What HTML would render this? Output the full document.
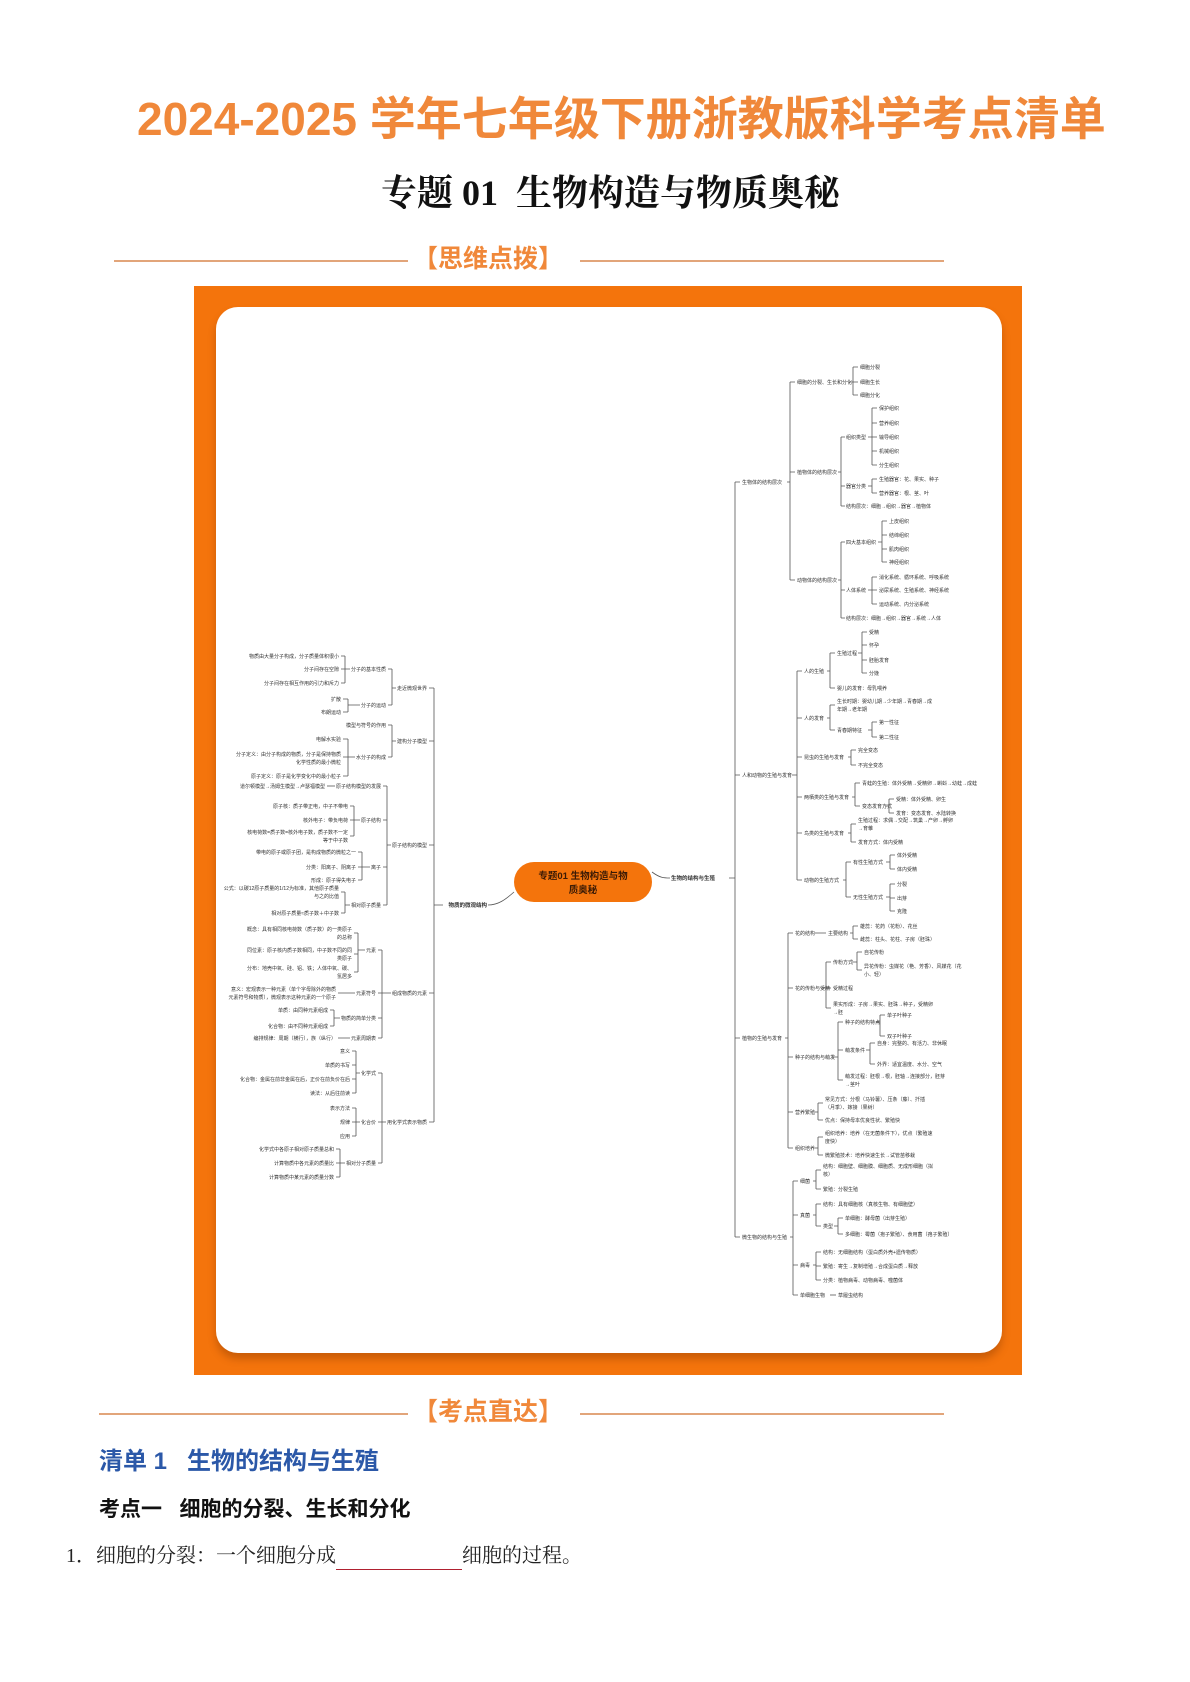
<!DOCTYPE html>
<html><head><meta charset="utf-8">
<style>
html,body{margin:0;padding:0;background:#fff;}
body{width:1190px;height:1682px;position:relative;overflow:hidden;font-family:"Liberation Sans","Noto Sans CJK SC",sans-serif;}
.abs{position:absolute;white-space:nowrap;}
.title{left:137px;top:91px;font-size:46px;line-height:56px;font-weight:bold;color:#f0883a;}
.sub{left:381px;top:171px;font-size:36px;line-height:44px;font-weight:bold;color:#111;font-family:"Liberation Serif","Noto Serif CJK SC",serif;}
.sec{font-size:25px;line-height:30px;font-weight:bold;color:#f0883a;}
.hl{position:absolute;height:2px;background:#e2a57a;}
.frame{left:194px;top:286px;width:828px;height:1089px;background:#f4740c;}
.card{left:216px;top:307px;width:786px;height:1046px;background:#fff;border-radius:22px;box-shadow:0 6px 8px rgba(120,50,0,0.35);}
.h1{left:99px;top:1446px;font-size:24px;line-height:32px;font-weight:bold;color:#2b58a8;}
.h2{left:99px;top:1496px;font-size:21px;line-height:28px;font-weight:bold;color:#111;}
.p{left:66px;top:1542px;font-size:20px;line-height:28px;color:#222;font-family:"Liberation Serif","Noto Serif CJK SC",serif;}
.blank{display:inline-block;width:126px;border-bottom:1.5px solid #b02030;height:22px;vertical-align:bottom;}
svg{position:absolute;left:0;top:0;}
</style></head><body>
<div class="abs title">2024-2025 学年七年级下册浙教版科学考点清单</div>
<div class="abs sub">专题 01&nbsp; 生物构造与物质奥秘</div>

<div class="hl" style="left:114px;top:260px;width:294px;"></div>
<div class="abs sec" style="left:413px;top:244px;">【思维点拨】</div>
<div class="hl" style="left:580px;top:260px;width:364px;"></div>

<div class="abs frame"></div>
<div class="abs card"></div>

<svg width="1190" height="1682" viewBox="0 0 1190 1682">
<g fill="none" stroke="#555" stroke-width="0.8">
<path d="M652,872 C660,878 664,878 670,878 M729,878 H735 M735,482 V1237 M735,482 H740 M735,775 H740 M735,1038 H740 M735,1237 H740"/>
<path d="M787,482 H790 M790,382 V580 M790,382 H795 M790,472 H795 M790,580 H795"/>
<path d="M850,382 H853 M853,367 V395 M853,367 H858 M853,382 H858 M853,395 H858"/>
<path d="M838,472 H841 M841,437 V506 M841,437 H845 M841,486 H845 M841,506 H845"/>
<path d="M868,437 H872 M872,408 V465 M872,408 H877 M872,423 H877 M872,437 H877 M872,451 H877 M872,465 H877"/>
<path d="M868,486 H872 M872,479 V493 M872,479 H877 M872,493 H877"/>
<path d="M838,580 H841 M841,542 V618 M841,542 H845 M841,590 H845 M841,618 H845"/>
<path d="M878,542 H882 M882,521 V562 M882,521 H887 M882,535 H887 M882,549 H887 M882,562 H887"/>
<path d="M868,590 H872 M872,577 V604 M872,577 H877 M872,590 H877 M872,604 H877"/>
<path d="M792,775 H797 M797,671 V880 M797,671 H802 M797,718 H802 M797,757 H802 M797,797 H802 M797,833 H802 M797,880 H802"/>
<path d="M827,671 H830 M830,653 V688 M830,653 H835 M830,688 H835"/>
<path d="M858,653 H862 M862,632 V673 M862,632 H867 M862,645 H867 M862,660 H867 M862,673 H867"/>
<path d="M827,718 H830 M830,705 V730 M830,705 H835 M830,730 H835"/>
<path d="M868,730 H872 M872,722 V737 M872,722 H877 M872,737 H877"/>
<path d="M848,757 H851 M851,750 V765 M851,750 H856 M851,765 H856"/>
<path d="M852,797 H855 M855,783 V806 M855,783 H860 M855,806 H860"/>
<path d="M885,806 H889 M889,799 V813 M889,799 H894 M889,813 H894"/>
<path d="M848,833 H851 M851,824 V842 M851,824 H856 M851,842 H856"/>
<path d="M843,880 H846 M846,862 V897 M846,862 H851 M846,897 H851"/>
<path d="M886,862 H890 M890,855 V869 M890,855 H895 M890,869 H895"/>
<path d="M886,897 H890 M890,884 V911 M890,884 H895 M890,898 H895 M890,911 H895"/>
<path d="M785,1038 H788 M788,933 V1148 M788,933 H793 M788,988 H793 M788,1057 H793 M788,1112 H793 M788,1148 H793"/>
<path d="M815,933 H826 M850,933 H853 M853,926 V939 M853,926 H858 M853,939 H858"/>
<path d="M822,988 H826 M826,962 V1008 M826,962 H831 M826,988 H831 M826,1008 H831"/>
<path d="M852,962 H857 M857,952 V970 M857,952 H862 M857,970 H862"/>
<path d="M832,1057 H838 M838,1022 V1080 M838,1022 H843 M838,1050 H843 M838,1080 H843"/>
<path d="M876,1022 H880 M880,1015 V1036 M880,1015 H885 M880,1036 H885"/>
<path d="M866,1050 H870 M870,1043 V1064 M870,1043 H875 M870,1064 H875"/>
<path d="M815,1112 H818 M818,1103 V1120 M818,1103 H823 M818,1120 H823"/>
<path d="M815,1148 H818 M818,1137 V1155 M818,1137 H823 M818,1155 H823"/>
<path d="M790,1237 H793 M793,1181 V1295 M793,1181 H798 M793,1215 H798 M793,1265 H798 M793,1295 H798"/>
<path d="M813,1181 H816 M816,1170 V1189 M816,1170 H821 M816,1189 H821"/>
<path d="M813,1215 H816 M816,1204 V1226 M816,1204 H821 M816,1226 H821"/>
<path d="M834,1226 H838 M838,1218 V1234 M838,1218 H843 M838,1234 H843"/>
<path d="M813,1265 H816 M816,1252 V1280 M816,1252 H821 M816,1266 H821 M816,1280 H821"/>
<path d="M830,1295 H836"/>
<path d="M514,892 C505,900 498,905 488,905 M443,905 H434 M434,688 V1122 M434,688 H429 M434,741 H429 M434,845 H429 M434,993 H429 M434,1122 H429"/>
<path d="M396,688 H392 M392,669 V705 M392,669 H388 M392,705 H388"/>
<path d="M350,669 H345 M345,656 V683 M345,656 H341 M345,669 H341 M345,683 H341"/>
<path d="M360,705 H348 M348,699 V712 M348,699 H343 M348,712 H343"/>
<path d="M396,741 H392 M392,725 V757 M392,725 H388 M392,757 H388"/>
<path d="M355,757 H348 M348,739 V776 M348,739 H343 M348,757 H343 M348,776 H343"/>
<path d="M391,845 H387 M387,786 V905 M387,786 H383 M387,820 H383 M387,867 H383 M387,905 H383"/>
<path d="M335,786 H327"/>
<path d="M360,820 H354 M354,806 V836 M354,806 H350 M354,820 H350 M354,836 H350"/>
<path d="M370,867 H362 M362,852 V880 M362,852 H358 M362,867 H358 M362,880 H358"/>
<path d="M350,905 H345 M345,892 V913 M345,892 H341 M345,913 H341"/>
<path d="M391,993 H382 M382,950 V1038 M382,950 H378 M382,993 H378 M382,1018 H378 M382,1038 H378"/>
<path d="M365,950 H358 M358,933 V972 M358,933 H354 M358,954 H354 M358,972 H354"/>
<path d="M355,993 H338 M340,1018 H334 M334,1010 V1026 M334,1010 H330 M334,1026 H330 M350,1038 H338"/>
<path d="M386,1122 H382 M382,1073 V1163 M382,1073 H378 M382,1122 H378 M382,1163 H378"/>
<path d="M360,1073 H356 M356,1051 V1093 M356,1051 H352 M356,1065 H352 M356,1079 H352 M356,1093 H352"/>
<path d="M360,1122 H356 M356,1108 V1136 M356,1108 H352 M356,1122 H352 M356,1136 H352"/>
<path d="M345,1163 H340 M340,1149 V1177 M340,1149 H336 M340,1163 H336 M340,1177 H336"/>
</g>

<rect x="514" y="862" width="138" height="40" rx="20" fill="#f4740c"/>
<g font-family="Liberation Sans,Noto Sans CJK SC,sans-serif" font-size="9.5" font-weight="bold" fill="#3a1a05" text-anchor="middle">
<text x="583" y="879">专题01 生物构造与物</text>
<text x="583" y="893">质奥秘</text>
</g>

<g font-family="Liberation Sans,Noto Sans CJK SC,sans-serif" font-size="5" fill="#333">
<text x="671" y="880" font-size="5.5" font-weight="bold">生物的结构与生殖</text>
<text x="742" y="484">生物体的结构层次</text>
<text x="797" y="384">细胞的分裂、生长和分化</text>
<text x="860" y="369">细胞分裂</text><text x="860" y="384">细胞生长</text><text x="860" y="397">细胞分化</text>
<text x="797" y="474">植物体的结构层次</text>
<text x="846" y="439">组织类型</text>
<text x="879" y="410">保护组织</text><text x="879" y="425">营养组织</text><text x="879" y="439">输导组织</text><text x="879" y="453">机械组织</text><text x="879" y="467">分生组织</text>
<text x="846" y="488">器官分类</text>
<text x="879" y="481">生殖器官：花、果实、种子</text><text x="879" y="495">营养器官：根、茎、叶</text>
<text x="846" y="508">结构层次：细胞→组织→器官→植物体</text>
<text x="797" y="582">动物体的结构层次</text>
<text x="846" y="544">四大基本组织</text>
<text x="889" y="523">上皮组织</text><text x="889" y="537">结缔组织</text><text x="889" y="551">肌肉组织</text><text x="889" y="564">神经组织</text>
<text x="846" y="592">人体系统</text>
<text x="879" y="579">消化系统、循环系统、呼吸系统</text><text x="879" y="592">泌尿系统、生殖系统、神经系统</text><text x="879" y="606">运动系统、内分泌系统</text>
<text x="846" y="620">结构层次：细胞→组织→器官→系统→人体</text>

<text x="742" y="777">人和动物的生殖与发育</text>
<text x="804" y="673">人的生殖</text>
<text x="837" y="655">生殖过程</text>
<text x="869" y="634">受精</text><text x="869" y="647">怀孕</text><text x="869" y="662">胚胎发育</text><text x="869" y="675">分娩</text>
<text x="837" y="690">婴儿的发育：母乳喂养</text>
<text x="804" y="720">人的发育</text>
<text x="837" y="703">生长时期：婴幼儿期→少年期→青春期→成</text><text x="837" y="711">年期→老年期</text>
<text x="837" y="732">青春期特征</text>
<text x="879" y="724">第一性征</text><text x="879" y="739">第二性征</text>
<text x="804" y="759">昆虫的生殖与发育</text>
<text x="858" y="752">完全变态</text><text x="858" y="767">不完全变态</text>
<text x="804" y="799">两栖类的生殖与发育</text>
<text x="862" y="785">青蛙的生殖：体外受精→受精卵→蝌蚪→幼蛙→成蛙</text>
<text x="862" y="808">变态发育方式</text>
<text x="896" y="801">受精：体外受精、卵生</text><text x="896" y="815">发育：变态发育、水陆转换</text>
<text x="804" y="835">鸟类的生殖与发育</text>
<text x="858" y="822">生殖过程：求偶→交配→筑巢→产卵→孵卵</text><text x="858" y="830">→育雏</text>
<text x="858" y="844">发育方式：体内受精</text>
<text x="804" y="882">动物的生殖方式</text>
<text x="853" y="864">有性生殖方式</text>
<text x="897" y="857">体外受精</text><text x="897" y="871">体内受精</text>
<text x="853" y="899">无性生殖方式</text>
<text x="897" y="886">分裂</text><text x="897" y="900">出芽</text><text x="897" y="913">克隆</text>

<text x="742" y="1040">植物的生殖与发育</text>
<text x="795" y="935">花的结构</text><text x="828" y="935">主要结构</text>
<text x="860" y="928">雄蕊：花药（花粉）、花丝</text><text x="860" y="941">雌蕊：柱头、花柱、子房（胚珠）</text>
<text x="795" y="990">花的传粉与受精</text>
<text x="833" y="964">传粉方式</text>
<text x="864" y="954">自花传粉</text>
<text x="864" y="968">异花传粉：虫媒花（艳、芳香）、风媒花（花</text><text x="864" y="976">小、轻）</text>
<text x="833" y="990">受精过程</text>
<text x="833" y="1006">果实形成：子房→果实、胚珠→种子，受精卵</text><text x="833" y="1014">→胚</text>
<text x="795" y="1059">种子的结构与萌发</text>
<text x="845" y="1024">种子的结构特点</text>
<text x="887" y="1017">单子叶种子</text><text x="887" y="1038">双子叶种子</text>
<text x="845" y="1052">萌发条件</text>
<text x="877" y="1045">自身：完整的、有活力、非休眠</text><text x="877" y="1066">外界：适宜温度、水分、空气</text>
<text x="845" y="1078">萌发过程：胚根→根，胚轴→连接部分，胚芽</text><text x="845" y="1086">→茎叶</text>
<text x="795" y="1114">营养繁殖</text>
<text x="825" y="1101">常见方式：分根（马铃薯）、压条（藤）、扦插</text><text x="825" y="1109">（月季）、嫁接（果树）</text>
<text x="825" y="1122">优点：保持母本优良性状、繁殖快</text>
<text x="795" y="1150">组织培养</text>
<text x="825" y="1135">组织培养：培养（在无菌条件下），优点（繁殖速</text><text x="825" y="1143">度快）</text>
<text x="825" y="1157">微繁殖技术：培养快速生长→试管苗移栽</text>

<text x="742" y="1239">微生物的结构与生殖</text>
<text x="800" y="1183">细菌</text>
<text x="823" y="1168">结构：细胞壁、细胞膜、细胞质、无成形细胞（拟</text><text x="823" y="1176">核）</text>
<text x="823" y="1191">繁殖：分裂生殖</text>
<text x="800" y="1217">真菌</text>
<text x="823" y="1206">结构：具有细胞核（真核生物、有细胞壁）</text>
<text x="823" y="1228">类型</text>
<text x="845" y="1220">单细胞：酵母菌（出芽生殖）</text><text x="845" y="1236">多细胞：霉菌（孢子繁殖）、食用菌（孢子繁殖）</text>
<text x="800" y="1267">病毒</text>
<text x="823" y="1254">结构：无细胞结构（蛋白质外壳+遗传物质）</text>
<text x="823" y="1268">繁殖：寄生→复制增殖→合成蛋白质→释放</text>
<text x="823" y="1282">分类：植物病毒、动物病毒、噬菌体</text>
<text x="800" y="1297">单细胞生物</text><text x="838" y="1297">草履虫结构</text>
</g>

<g font-family="Liberation Sans,Noto Sans CJK SC,sans-serif" font-size="5" fill="#333" text-anchor="end">
<text x="487" y="907" font-size="5.5" font-weight="bold">物质的微观结构</text>
<text x="427" y="690">走近微观世界</text>
<text x="386" y="671">分子的基本性质</text>
<text x="339" y="658">物质由大量分子构成，分子质量体积很小</text><text x="339" y="671">分子间存在空隙</text><text x="339" y="685">分子间存在相互作用的引力和斥力</text>
<text x="386" y="707">分子的运动</text>
<text x="341" y="701">扩散</text><text x="341" y="714">布朗运动</text>
<text x="427" y="743">建构分子模型</text>
<text x="386" y="727">模型与符号的作用</text>
<text x="386" y="759">水分子的构成</text>
<text x="341" y="741">电解水实验</text>
<text x="341" y="756">分子定义：由分子构成的物质，分子是保持物质</text><text x="341" y="764">化学性质的最小微粒</text>
<text x="341" y="778">原子定义：原子是化学变化中的最小粒子</text>
<text x="427" y="847">原子结构的模型</text>
<text x="381" y="788">原子结构模型的发展</text>
<text x="325" y="788">道尔顿模型→汤姆生模型→卢瑟福模型</text>
<text x="381" y="822">原子结构</text>
<text x="348" y="808">原子核：质子带正电，中子不带电</text><text x="348" y="822">核外电子：带负电荷</text><text x="348" y="834">核电荷数=质子数=核外电子数，质子数不一定</text><text x="348" y="842">等于中子数</text>
<text x="381" y="869">离子</text>
<text x="356" y="854">带电的原子或原子团，是构成物质的微粒之一</text><text x="356" y="869">分类：阳离子、阴离子</text><text x="356" y="882">形成：原子得失电子</text>
<text x="381" y="907">相对原子质量</text>
<text x="339" y="890">公式：以碳12原子质量的1/12为标准，其他原子质量</text><text x="339" y="898">与之的比值</text>
<text x="339" y="915">相对原子质量≈质子数＋中子数</text>
<text x="427" y="995">组成物质的元素</text>
<text x="376" y="952">元素</text>
<text x="352" y="931">概念：具有相同核电荷数（质子数）的一类原子</text><text x="352" y="939">的总称</text>
<text x="352" y="952">同位素：原子核内质子数相同，中子数不同的同</text><text x="352" y="960">类原子</text>
<text x="352" y="970">分布：地壳中氧、硅、铝、铁；人体中氧、碳、</text><text x="352" y="978">氢居多</text>
<text x="376" y="995">元素符号</text>
<text x="336" y="991">意义：宏观表示一种元素（单个字母除外的物质</text><text x="336" y="999">元素符号和物质），微观表示这种元素的一个原子</text>
<text x="376" y="1020">物质的简单分类</text>
<text x="328" y="1012">单质：由同种元素组成</text><text x="328" y="1028">化合物：由不同种元素组成</text>
<text x="376" y="1040">元素周期表</text>
<text x="336" y="1040">编排规律：周期（横行），族（纵行）</text>
<text x="427" y="1124">用化学式表示物质</text>
<text x="376" y="1075">化学式</text>
<text x="350" y="1053">意义</text><text x="350" y="1067">单质的书写</text><text x="350" y="1081">化合物：金属在前非金属在后，正价在前负价在后</text><text x="350" y="1095">读法：从后往前读</text>
<text x="376" y="1124">化合价</text>
<text x="350" y="1110">表示方法</text><text x="350" y="1124">规律</text><text x="350" y="1138">应用</text>
<text x="376" y="1165">相对分子质量</text>
<text x="334" y="1151">化学式中各原子相对原子质量总和</text><text x="334" y="1165">计算物质中各元素的质量比</text><text x="334" y="1179">计算物质中某元素的质量分数</text>
</g>
</svg>

<div class="hl" style="left:99px;top:1413px;width:309px;"></div>
<div class="abs sec" style="left:413px;top:1397px;">【考点直达】</div>
<div class="hl" style="left:580px;top:1413px;width:364px;"></div>

<div class="abs h1">清单 1&nbsp;&nbsp; 生物的结构与生殖</div>
<div class="abs h2">考点一&nbsp;&nbsp; 细胞的分裂、生长和分化</div>
<div class="abs p">1．细胞的分裂：一个细胞分成<span class="blank"></span>细胞的过程。</div>
</body></html>
